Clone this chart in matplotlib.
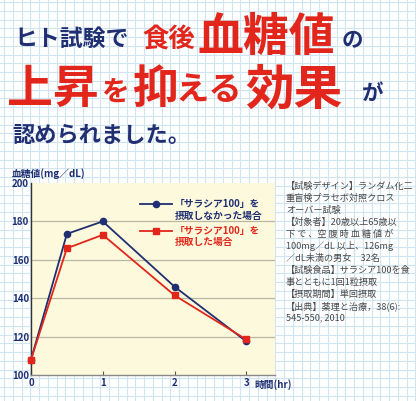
import matplotlib.pyplot as plt
import numpy as np

plt.rcParams['font.family'] = ['Noto Sans CJK JP', 'DejaVu Sans']

# data (hours, mg/dL)
hours = [0, 0.5, 1, 2, 3]
glucose_placebo = [108, 173.5, 180, 146, 117.5]
glucose_salacia = [108, 166, 173, 141.5, 118.5]
label_placebo = ["「サラシア100」を", "摂取しなかった場合"]
label_salacia = ["「サラシア100」を", "摂取した場合"]
yticks = [100, 120, 140, 160, 180, 200]
xticks = [0, 1, 2, 3]

notes = [
    "【試験デザイン】ランダム化二",
    "重盲検プラセボ対照クロス",
    "オーバー試験",
    "【対象者】20歳以上65歳以",
    "下 で 、空 腹 時 血 糖 値 が",
    "100mg／dL 以上、126mg",
    "／dL未満の男女　32名",
    "【試験食品】サラシア100を食",
    "事とともに1回1粒摂取",
    "【摂取期間】単回摂取",
    "【出典】薬理と治療，38(6):",
    "545-550, 2010",
]

NAVY = "#1f2f72"
RED = "#e3261c"
W, H = 416, 401

fig = plt.figure(figsize=(W / 100, H / 100), dpi=100)
fig.patch.set_facecolor("white")

# graph-paper background
bg = fig.add_axes([0, 0, 1, 1], zorder=-5)
bg.set_xlim(0, W)
bg.set_ylim(H, 0)
bg.axis("off")
for gx in np.arange(4, W, 8.75):
    bg.axvline(gx, color="#cfe5f1", lw=0.8)
for gy in np.arange(2, H, 8.75):
    bg.axhline(gy, color="#cfe5f1", lw=0.8)


def px(x, y):
    return x / W, 1 - y / H


# headline, pieced together in mixed sizes / colours
title_parts = [
    # (text, left px, centre px, size pt, colour)
    ("ヒト試験で", 14, 39, 16.5, NAVY),
    ("食後", 142, 40, 19, RED),
    ("血糖値", 198, 38, 33, RED),
    ("の", 342, 40, 15.5, NAVY),
    ("上昇", 7, 90, 33, RED),
    ("を", 101, 93, 20, RED),
    ("抑", 132, 90, 33, RED),
    ("える", 176, 91, 24, RED),
    ("効果", 245, 90, 35, RED),
    ("が", 362, 93, 15.5, NAVY),
    ("認められました。", 12, 135, 16, NAVY),
]
for txt, x, y, s, c in title_parts:
    fig.text(*px(x, y), txt, fontsize=s, color=c, fontweight="bold",
             ha="left", va="center")

# chart
ax = fig.add_axes([31 / W, 1 - 375 / H, (275 - 31) / W, (375 - 183) / H])
ax.set_facecolor("#fdf9dc")
ax.set_xlim(0, 3.4)
ax.set_ylim(100, 200)
ax.set_yticks(yticks)
ax.set_xticks(xticks)
for yv in yticks[1:-1]:
    ax.axhline(yv, color="#b9b7a3", lw=0.9, zorder=1)

ax.plot(hours, glucose_placebo, color=NAVY, lw=1.3, marker="o", ms=4.5,
        zorder=3, clip_on=False)
ax.plot(hours, glucose_salacia, color=RED, lw=1.3, marker="s", ms=5,
        zorder=4, clip_on=False)

for side in ("top", "right"):
    ax.spines[side].set_visible(False)
ax.spines["left"].set_color("#333333")
ax.spines["left"].set_linewidth(1.0)
ax.spines["bottom"].set_color("#888888")
ax.spines["bottom"].set_linewidth(1.0)
ax.tick_params(axis="y", length=0, pad=1.5, labelsize=7, labelcolor=NAVY)
ax.tick_params(axis="x", direction="in", length=3, width=0.8, color="#555555",
               pad=2, labelsize=7, labelcolor=NAVY)
for lab in ax.get_xticklabels() + ax.get_yticklabels():
    lab.set_fontweight("bold")

ax.annotate("時間(hr)", xy=(3, 100), xycoords="data", xytext=(6, -3),
            textcoords="offset points", ha="left", va="top", fontsize=7,
            color=NAVY, fontweight="bold")

fig.text(*px(12, 174), "血糖値(mg／dL)", fontsize=7, color=NAVY,
         fontweight="bold", ha="left", va="center")

# legend: sample line aligned with the first of two label lines
tr = ax.transAxes
for (lines, col, mk, ms), ytop in zip(
        [(label_placebo, NAVY, "o", 4.5), (label_salacia, RED, "s", 5)],
        [0.891, 0.752]):
    ax.plot([0.447, 0.578], [ytop, ytop], transform=tr, color=col, lw=1.3,
            clip_on=False, zorder=5)
    ax.plot([0.512], [ytop], transform=tr, color=col, marker=mk, ms=ms,
            clip_on=False, zorder=5)
    for k, line in enumerate(lines):
        ax.text(0.590, ytop - k * 0.060, line, transform=tr, fontsize=7,
                color=col, fontweight="bold", ha="left", va="center")

# study notes on the right
for i, line in enumerate(notes):
    fig.text(*px(286, 186 + i * 12.0), line, fontsize=6.6, color="#4a4a4a",
             ha="left", va="center")

fig.savefig("out.png", dpi=100)
